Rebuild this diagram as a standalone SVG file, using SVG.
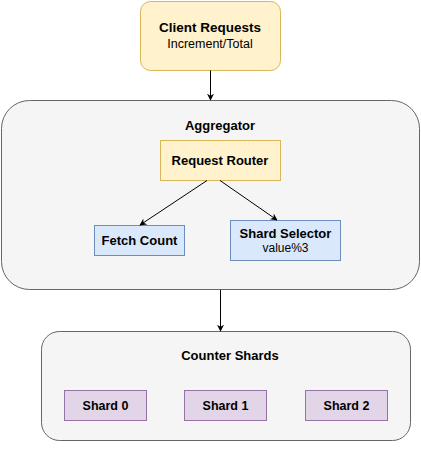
<svg xmlns="http://www.w3.org/2000/svg" width="421" height="451" viewBox="0 0 421 451">
<defs>
<marker id="arr" viewBox="0 0 10 10" refX="9" refY="5" markerWidth="7" markerHeight="7" markerUnits="userSpaceOnUse" orient="auto"><path d="M0,0 L10,5 L0,10 L3,5 Z" fill="#000"/></marker>
<style>
text{font-family:"Liberation Sans",Arial,sans-serif;fill:#000;text-anchor:middle}
.b{font-weight:bold}
.y{fill:#fff2cc;stroke:#d6b656}
.g{fill:#f5f5f5;stroke:#666}
.bl{fill:#dae8fc;stroke:#6c8ebf}
.p{fill:#e1d5e7;stroke:#9673a6}
.c{stroke:#000;fill:none;marker-end:url(#arr)}
</style>
</defs>
<g id="client"><rect class="y" x="140.5" y="1.5" width="140" height="69" rx="10"/><text class="b" x="210" y="32" font-size="13.5">Client Requests</text><text x="210" y="48" font-size="12.5">Increment/Total</text></g>
<g id="aggregator"><rect class="g" x="1.5" y="100.5" width="418" height="189" rx="28"/><text class="b" x="220" y="130" font-size="13">Aggregator</text></g>
<g id="router"><rect class="y" x="160.5" y="140.5" width="120" height="40"/><text class="b" x="220" y="165" font-size="13">Request Router</text></g>
<g id="fetch"><rect class="bl" x="94.5" y="225.5" width="90" height="30"/><text class="b" x="139.5" y="245" font-size="13">Fetch Count</text></g>
<g id="selector"><rect class="bl" x="230.5" y="220.5" width="110" height="40"/><text class="b" x="285.5" y="238" font-size="13">Shard Selector</text><text x="285.5" y="252" font-size="12">value%3</text></g>
<g id="shards"><rect class="g" x="41.5" y="331.5" width="369" height="109" rx="18"/><text class="b" x="230" y="360" font-size="13">Counter Shards</text></g>
<g id="shard0"><rect class="p" x="64.5" y="390.5" width="82" height="30"/><text class="b" x="105.5" y="410" font-size="12.5">Shard 0</text></g>
<g id="shard1"><rect class="p" x="184.5" y="390.5" width="82" height="30"/><text class="b" x="225.5" y="410" font-size="12.5">Shard 1</text></g>
<g id="shard2"><rect class="p" x="305.5" y="390.5" width="82" height="30"/><text class="b" x="346.5" y="410" font-size="12.5">Shard 2</text></g>
<g id="connectors">
<line class="c" x1="210.5" y1="70.5" x2="210.5" y2="100"/>
<line class="c" x1="207" y1="180.5" x2="140" y2="225"/>
<line class="c" x1="220" y1="180.5" x2="277" y2="220"/>
<line class="c" x1="220.5" y1="290" x2="220.5" y2="331"/>
</g>
</svg>
